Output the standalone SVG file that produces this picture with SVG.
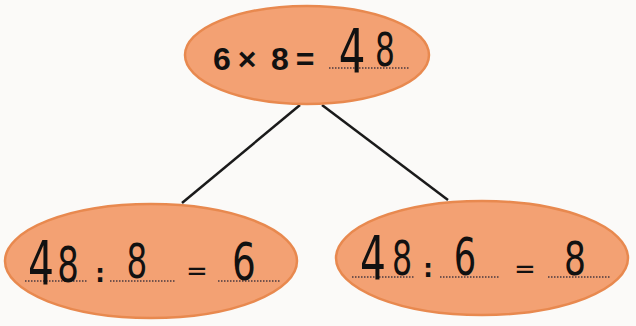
<svg xmlns="http://www.w3.org/2000/svg" width="636" height="326" viewBox="0 0 636 326">
<style>
.node{fill:#F3A173;stroke:#E8894F;stroke-width:2.5}
.conn{stroke:#1a1a1a;stroke-width:2.5;fill:none}
.print{font-family:"Liberation Sans",Arial,sans-serif;font-weight:bold;font-size:32px;fill:#111;text-anchor:middle}
.hand{font-family:"DejaVu Sans",sans-serif;fill:#111;text-anchor:middle}
.colon{font-family:"DejaVu Sans",sans-serif;font-weight:bold;font-size:24px;fill:#111;text-anchor:middle}
.eq{font-family:"DejaVu Sans",sans-serif;font-size:26px;fill:#111;text-anchor:middle}
.dots{stroke:#4a3a40;stroke-width:1.5;stroke-dasharray:1.5 1.5;fill:none}
</style>
<rect width="636" height="326" fill="#FBFAF8"/>
<g id="connectors">
<line class="conn" x1="300" y1="105" x2="182" y2="203"/>
<line class="conn" x1="322" y1="105" x2="448" y2="200"/>
</g>
<g id="top">
<ellipse class="node" cx="307" cy="55" rx="122" ry="49"/>
<text class="print" y="70"><tspan x="222">6</tspan><tspan x="247">×</tspan><tspan x="280">8</tspan><tspan x="305">=</tspan></text>
<path class="dots" d="M329 68H410"/>
<text class="hand" font-size="60" transform="translate(352,72) scale(0.7,1)">4</text>
<text class="hand" font-size="46" transform="translate(385,66) scale(0.68,1)">8</text>
</g>
<g id="left">
<ellipse class="node" cx="151" cy="261" rx="146" ry="57"/>
<path class="dots" d="M25 281H88M110 281H175M218 281H280"/>
<text class="hand" font-size="60" transform="translate(41,284) scale(0.68,1)">4</text>
<text class="hand" font-size="50" transform="translate(68,282) scale(0.68,1)">8</text>
<text class="colon" x="100" y="282">:</text>
<text class="hand" font-size="48" transform="translate(137,278) scale(0.68,1)">8</text>
<text class="eq" x="197" y="280">=</text>
<text class="hand" font-size="52" transform="translate(244,280) scale(0.72,1)">6</text>
</g>
<g id="right">
<ellipse class="node" cx="482" cy="258" rx="146" ry="57"/>
<path class="dots" d="M352 277H415M440 277H500M548 277H610"/>
<text class="hand" font-size="60" transform="translate(373,279) scale(0.68,1)">4</text>
<text class="hand" font-size="48" transform="translate(402,275) scale(0.66,1)">8</text>
<text class="colon" x="428" y="277">:</text>
<text class="hand" font-size="52" transform="translate(465,275) scale(0.68,1)">6</text>
<text class="eq" x="525" y="278">=</text>
<text class="hand" font-size="46" transform="translate(575,275) scale(0.75,1)">8</text>
</g>
</svg>
